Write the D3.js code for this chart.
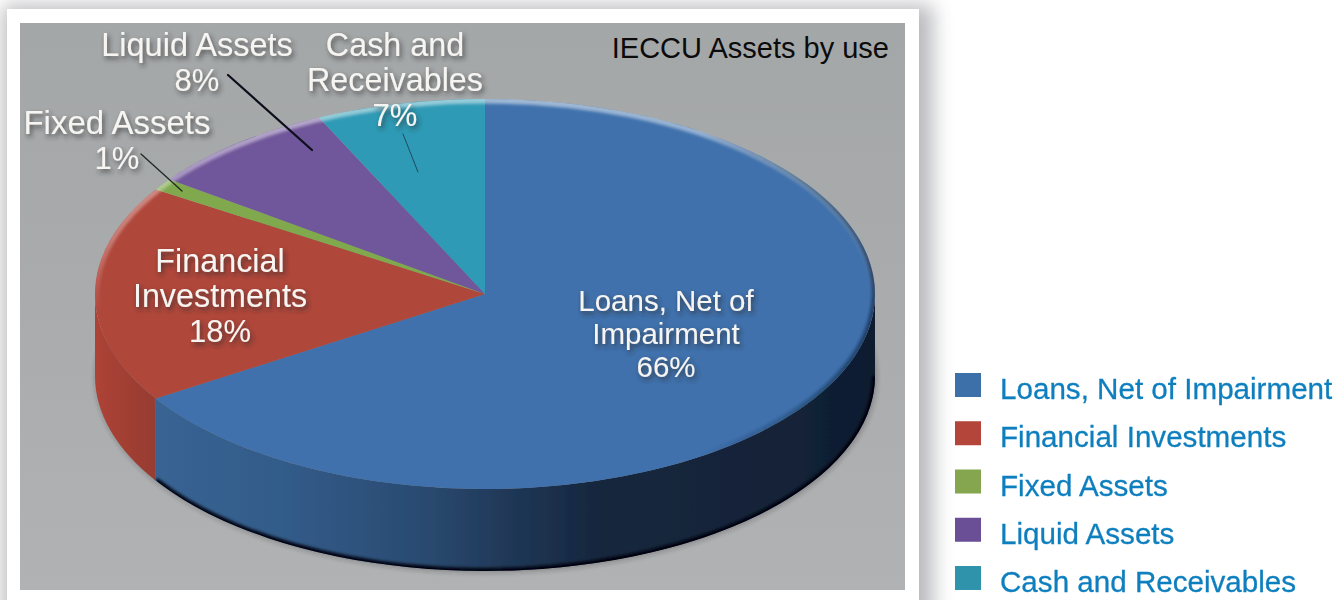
<!DOCTYPE html>
<html>
<head>
<meta charset="utf-8">
<style>
html,body{margin:0;padding:0;background:#fff;overflow:hidden}
svg{display:block}
text{font-family:"Liberation Sans",Arial,sans-serif}
</style>
<script src="https://cdn.jsdelivr.net/npm/d3@7/dist/d3.min.js"></script>
</head>
<body>
<svg id="chart" width="1344" height="600"></svg>
<script>
// Asset mix, in percent of total assets
const categories = ["Loans, Net of Impairment", "Financial Investments", "Fixed Assets", "Liquid Assets", "Cash and Receivables"];
const shares = [66, 18, 1, 8, 7];
const sliceColors = ["#3f71ac", "#b0463b", "#80a84e", "#70569a", "#2f9ab5"];
const swatchColors = ["#3e6fa8", "#b3443a", "#86a54f", "#6a5097", "#2f93ab"];
const sideColors = ["#2f5583", "#9b3d32", "#66883f", "#59447a", "#267b90"];
const sliceLabelLines = [
  ["Loans, Net of", "Impairment", "66%"],
  ["Financial", "Investments", "18%"],
  ["Fixed Assets", "1%"],
  ["Liquid Assets", "8%"],
  ["Cash and", "Receivables", "7%"]
];
const chartTitle = "IECCU Assets by use";

const cx = 485, cy = 294, rx = 390, ry = 195, depth = 82;
const svg = d3.select("#chart");
const defs = svg.append("defs");

const blur = (id, sd) => defs.append("filter").attr("id", id)
  .attr("x", "-30%").attr("y", "-30%").attr("width", "160%").attr("height", "160%")
  .append("feGaussianBlur").attr("stdDeviation", sd);
blur("soft1", 0.5); blur("soft3", 2.5); blur("shadow", 10); blur("edge", 1.6);

// Text halo used for slice labels
const halo = defs.append("filter").attr("id", "labelShadow")
  .attr("x", "-15%").attr("y", "-30%").attr("width", "130%").attr("height", "160%");
halo.append("feDropShadow").attr("dx", 2).attr("dy", 3).attr("stdDeviation", 2.6)
  .attr("flood-color", "#2a2a2a").attr("flood-opacity", 0.7);

const addGradient = (id, attrs, stops) => {
  const g = defs.append("linearGradient").attr("id", id);
  Object.entries(attrs).forEach(([k, v]) => g.attr(k, v));
  stops.forEach(([o, c, a]) => g.append("stop").attr("offset", o).attr("stop-color", c).attr("stop-opacity", a === undefined ? 1 : a));
};
addGradient("panelFill", {x1: 0, y1: 0, x2: 0, y2: 1}, [[0, "#a4a7a8"], [0.5, "#a9abac"], [1, "#b1b2b4"]]);
addGradient("blueSide", {gradientUnits: "userSpaceOnUse", x1: 150, y1: 0, x2: 875, y2: 0},
  [[0, "#386493"], [0.2, "#325a88"], [0.38, "#2a4a70"], [0.5, "#1f3756"], [0.62, "#15263d"], [0.88, "#132338"], [1, "#0d1b2e"]]);
addGradient("redSide", {gradientUnits: "userSpaceOnUse", x1: 95, y1: 0, x2: 150, y2: 0},
  [[0, "#ad4337"], [1, "#983c30"]]);
addGradient("rimLight", {x1: 0, y1: 0, x2: 0, y2: 1},
  [[0, "#ffffff", 0.5], [0.35, "#ffffff", 0.3], [0.55, "#ffffff", 0]]);
addGradient("rimDark", {gradientUnits: "userSpaceOnUse", x1: 700, y1: 0, x2: 875, y2: 0},
  [[0, "#0c1a30", 0], [1, "#0c1a30", 0.55]]);

// Card carrying the chart
svg.append("rect").attr("x", 3).attr("y", 5).attr("width", 930).attr("height", 640)
  .attr("fill", "#74767c").attr("opacity", 0.5).attr("filter", "url(#shadow)");
svg.append("rect").attr("x", 7).attr("y", 9).attr("width", 912).attr("height", 600).attr("fill", "#fff");
svg.append("rect").attr("x", 20).attr("y", 23).attr("width", 885).attr("height", 567).attr("fill", "url(#panelFill)");

const pieAngles = d3.pie().sort(null).startAngle(0).endAngle(2 * Math.PI)(shares);
const px = a => cx + rx * Math.sin(a);
const py = (a, drop = 0) => cy - ry * Math.cos(a) + drop;

// Wall of the disc, front half only (90deg to 270deg clockwise from twelve o'clock)
const wallPath = (a0, a1) => {
  const s = Math.max(a0, Math.PI / 2), e = Math.min(a1, 3 * Math.PI / 2);
  if (e <= s) return null;
  return `M${px(s)},${py(s)}A${rx},${ry} 0 0 1 ${px(e)},${py(e)}` +
    `L${px(e)},${py(e, depth)}A${rx},${ry} 0 0 0 ${px(s)},${py(s, depth)}Z`;
};
const chartG = svg.append("g").attr("filter", "url(#soft1)");

// Soft contact shadow under the disc
chartG.append("ellipse").attr("cx", cx + 1).attr("cy", cy + depth + 1).attr("rx", rx + 1).attr("ry", ry + 1)
  .attr("fill", "#333").attr("opacity", 0.3).attr("filter", "url(#soft3)");

chartG.append("g").selectAll("path").data(pieAngles).join("path")
  .attr("d", d => wallPath(d.startAngle, d.endAngle))
  .attr("fill", (d, i) => i === 0 ? "url(#blueSide)" : i === 1 ? "url(#redSide)" : sideColors[i]);

// Dark line along the lower edge of the wall
defs.append("clipPath").attr("id", "wallClip").append("path")
  .attr("d", wallPath(Math.PI / 2, 3 * Math.PI / 2));
const lowerEdge = `M${px(Math.PI / 2)},${py(Math.PI / 2, depth)}A${rx},${ry} 0 0 1 ${px(pieAngles[0].endAngle)},${py(pieAngles[0].endAngle, depth)}`;
chartG.append("path").attr("d", lowerEdge).attr("clip-path", "url(#wallClip)")
  .attr("fill", "none").attr("stroke", "#02060f").attr("stroke-width", 6).attr("filter", "url(#edge)");

// Top face: unit pie flattened by the view tilt
const arc = d3.arc().innerRadius(0).outerRadius(rx);
const topFace = chartG.append("g").attr("transform", `translate(${cx},${cy}) scale(1,${ry / rx})`);
topFace.selectAll("path").data(pieAngles).join("path")
  .attr("d", arc).attr("fill", (d, i) => sliceColors[i]);

// Highlight on the back rim and shading toward the right side
defs.append("clipPath").attr("id", "faceClip").append("ellipse")
  .attr("cx", cx).attr("cy", cy).attr("rx", rx).attr("ry", ry);
const rims = chartG.append("g").attr("clip-path", "url(#faceClip)");
rims.append("ellipse").attr("cx", cx).attr("cy", cy).attr("rx", rx).attr("ry", ry)
  .attr("fill", "none").attr("stroke", "url(#rimLight)").attr("stroke-width", 9).attr("filter", "url(#edge)");
rims.append("ellipse").attr("cx", cx).attr("cy", cy).attr("rx", rx).attr("ry", ry)
  .attr("fill", "none").attr("stroke", "url(#rimDark)").attr("stroke-width", 7).attr("filter", "url(#edge)");

// Leader lines from outer labels into their slices
const leaders = svg.append("g").attr("filter", "url(#soft1)").attr("stroke-linecap", "round");
leaders.append("line").attr("x1", 228).attr("y1", 75).attr("x2", 312).attr("y2", 150).attr("stroke", "#0d0f1c").attr("stroke-width", 2.2);
leaders.append("line").attr("x1", 141).attr("y1", 154).attr("x2", 182).attr("y2", 191).attr("stroke", "#1f2a22").attr("stroke-width", 1.3);
leaders.append("line").attr("x1", 403).attr("y1", 134).attr("x2", 418).attr("y2", 172).attr("stroke", "#1d4a5e").attr("stroke-width", 1);

// Slice labels; each row is [x centre, first baseline] in the order of categories
const labelOrigins = [[666, 311], [220, 272], [117, 134], [197, 56], [395, 56]];
const lineSteps = [33, 35, 35, 35, 35];
const labelSizes = [29.5, 32.3, 33, 32.5, 32.3];
const percentSizes = [29.5, 31, 31, 31, 31];
const labelG = svg.append("g").attr("fill", "#f7f5f2")
  .attr("text-anchor", "middle").attr("filter", "url(#labelShadow)");
sliceLabelLines.forEach((lines, i) => {
  lines.forEach((line, j) => {
    labelG.append("text").attr("x", labelOrigins[i][0]).attr("y", labelOrigins[i][1] + j * lineSteps[i])
      .attr("font-size", line.endsWith("%") ? percentSizes[i] : labelSizes[i]).text(line);
  });
});

svg.append("text").attr("x", 889).attr("y", 58).attr("text-anchor", "end")
  .attr("font-size", 29).attr("fill", "#0b0b0b").text(chartTitle);

// Legend
const legendY = d3.scalePoint().domain(categories).range([373, 566]);
const legend = svg.append("g").attr("filter", "url(#soft1)").selectAll("g").data(categories).join("g")
  .attr("transform", d => `translate(955,${legendY(d)})`);
legend.append("rect").attr("width", 26).attr("height", 24).attr("fill", (d, i) => swatchColors[i]);
legend.append("text").attr("x", 45).attr("y", 26).attr("font-size", 29.6)
  .attr("fill", "#0f7fbe").attr("stroke", "#0f7fbe").attr("stroke-width", 0.3).text(d => d);
</script>
</body>
</html>
